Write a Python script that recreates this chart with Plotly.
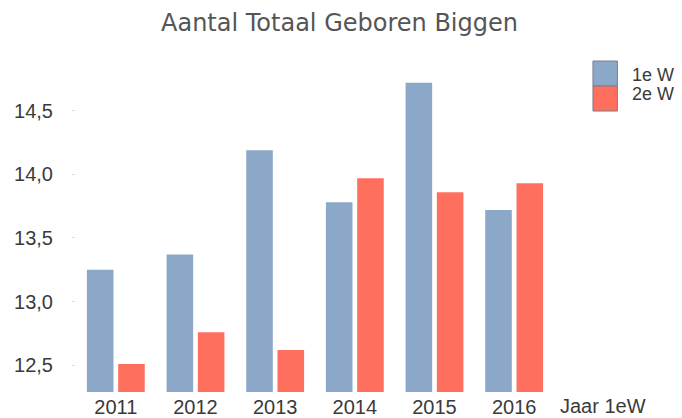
import plotly.graph_objects as go

years = ["2011", "2012", "2013", "2014", "2015", "2016"]
w1 = [13.25, 13.37, 14.19, 13.78, 14.72, 13.72]
w2 = [12.51, 12.76, 12.62, 13.97, 13.86, 13.93]
series_names = ["1e W", "2e W"]
ytick_vals = [12.5, 13.0, 13.5, 14.0, 14.5]

BLUE = "#8BA8C8"
RED = "#FF6F5E"
TXT = "#3a3a3a"

# page body has an 8px margin: the figure is drawn at (8, 8) in the window
OFF = 8
W, H = 682 - OFF, 418 - OFF
# plot area in window pixels (from the reference)
PX0, PX1, PY0, PY1 = 76, 554.5, 60, 391.7
L, R = PX0 - OFF, W - (PX1 - OFF)
T, B = PY0 - OFF, H - (PY1 - OFF)
PW, PH = PX1 - PX0, PY1 - PY0


def px(x):
    return (x - PX0) / PW


def py(y):
    return (PY1 - y) / PH


fig = go.Figure()
fig.add_trace(go.Bar(x=years, y=w1, name=series_names[0], marker_color=BLUE,
                     marker_line_width=0))
fig.add_trace(go.Bar(x=years, y=w2, name=series_names[1], marker_color=RED,
                     marker_line_width=0))

fig.update_layout(
    width=W, height=H,
    margin=dict(l=L, r=R, t=T, b=B, autoexpand=False),
    paper_bgcolor="white", plot_bgcolor="white",
    barmode="group", bargap=0.215, bargroupgap=0.15,
    showlegend=False,
    separators=",.",
    font=dict(family="Liberation Sans, Arial, sans-serif", size=20, color=TXT),
    title=dict(text="Aantal Totaal Geboren Biggen",
               font=dict(family="DejaVu Sans, Verdana, sans-serif", size=24, color="#555555"),
               x=(339.5 - OFF) / W, xanchor="center", xref="container",
               y=1 - (23 - OFF) / H, yanchor="middle", yref="container"),
    xaxis=dict(showline=False, showgrid=False, zeroline=False, ticks="",
               automargin=False,
               tickfont=dict(size=20, color=TXT), ticklabelstandoff=1),
    yaxis=dict(range=[12.29, 14.898], tickvals=ytick_vals, tickformat=".1f",
               showline=False, showgrid=False, zeroline=False, automargin=False,
               ticks="outside", ticklen=3, tickcolor="#dddddd",
               tickfont=dict(size=20, color=TXT), ticklabelstandoff=15),
)

# axis title at right end of x axis
fig.add_annotation(text="Jaar 1eW", xref="paper", yref="paper",
                   x=px(559), y=py(406), xanchor="left", yanchor="middle",
                   showarrow=False, font=dict(size=20, color=TXT))

# custom legend: stacked swatches + labels
sw_x0, sw_x1 = 593.5, 618
rows = [(61, 86), (86, 111)]
label_y = [75, 93.5]
colors = [BLUE, RED]
for (y0, y1), ly, c, name in zip(rows, label_y, colors, series_names):
    fig.add_shape(type="rect", xref="paper", yref="paper",
                  x0=px(sw_x0), x1=px(sw_x1), y0=py(y1), y1=py(y0),
                  fillcolor=c, line=dict(color="#7d7f8c", width=1))
    fig.add_annotation(text=name, xref="paper", yref="paper",
                       x=px(631), y=py(ly), xanchor="left",
                       yanchor="middle", showarrow=False,
                       font=dict(size=18, color=TXT))

fig.write_html("out.html")
